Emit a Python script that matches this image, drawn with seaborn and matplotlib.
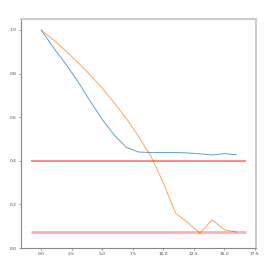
import matplotlib
matplotlib.use("Agg")
import matplotlib.pyplot as plt
import seaborn as sns
import pandas as pd

steps = list(range(17))
blue_vals = [1.0, 0.92, 0.845, 0.765, 0.675, 0.59, 0.517, 0.461, 0.44, 0.438, 0.438, 0.438, 0.436, 0.432, 0.427, 0.433, 0.428]
orange_vals = [1.0, 0.955, 0.905, 0.852, 0.795, 0.733, 0.665, 0.592, 0.51, 0.42, 0.30, 0.16, 0.117, 0.068, 0.129, 0.084, 0.073]
ref_high = 0.4
ref_low = 0.075

sns.set_style("white")
fig = plt.figure(figsize=(2.69, 2.69), dpi=100)
ax = fig.add_axes([0.078, 0.078, 0.874, 0.851])

df = pd.DataFrame({"step": steps, "blue": blue_vals, "orange": orange_vals})
sns.lineplot(data=df, x="step", y="blue", ax=ax, color="#1f77b4", lw=0.7, alpha=0.7)
sns.lineplot(data=df, x="step", y="orange", ax=ax, color="#ff7f0e", lw=0.7, alpha=0.7)
ax.hlines(ref_high, -0.8, 16.8, color="red", alpha=0.55, lw=1.2)
ax.hlines(ref_low, -0.8, 16.8, color="red", alpha=0.3, lw=2.0)

ax.set_ylim(0, 1.05)
ax.set_xlim(-1.65, 17.6)
ax.set_xticks([0, 2.5, 5, 7.5, 10, 12.5, 15, 17.5])
ax.set_yticks([0, 0.2, 0.4, 0.6, 0.8, 1.0])
ax.set_xlabel("")
ax.set_ylabel("")
ax.tick_params(labelsize=3.2, length=1.5, width=0.4, pad=1.5, colors="#444444", left=True, bottom=True)
for s in ["left", "bottom"]:
    ax.spines[s].set_color("#888888")
    ax.spines[s].set_linewidth(0.8)
for s in ["top", "right"]:
    ax.spines[s].set_color("#cccccc")
    ax.spines[s].set_linewidth(1.5)

fig.savefig("out.png", dpi=100)
